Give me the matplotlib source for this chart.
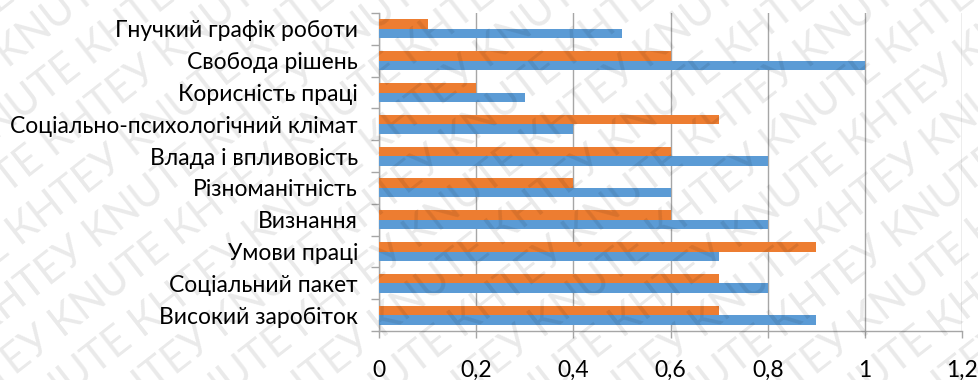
import matplotlib
matplotlib.use("Agg")
import matplotlib.pyplot as plt
from matplotlib.transforms import IdentityTransform
from matplotlib.ticker import FixedLocator, FuncFormatter
import numpy as np

plt.rcParams['font.family'] = ['Lato', 'Noto Sans', 'DejaVu Sans']

categories = [
    "Високий заробіток",
    "Соціальний пакет",
    "Умови праці",
    "Визнання",
    "Різноманітність",
    "Влада і впливовість",
    "Соціально-психологічний клімат",
    "Корисність праці",
    "Свобода рішень",
    "Гнучкий графік роботи",
]
series_blue = [0.9, 0.8, 0.7, 0.8, 0.6, 0.8, 0.4, 0.3, 1.0, 0.5]
series_orange = [0.7, 0.7, 0.9, 0.6, 0.4, 0.6, 0.7, 0.2, 0.6, 0.1]
x_ticks = [0, 0.2, 0.4, 0.6, 0.8, 1.0, 1.2]

BLUE = "#5B9BD5"
ORANGE = "#ED7D31"
GRID = "#A6A6A6"

W, H, DPI = 979, 380, 100
fig = plt.figure(figsize=(W / DPI, H / DPI), dpi=DPI)
ax = fig.add_axes([379 / W, (H - 331) / H, (962.3 - 379) / W, (331 - 13) / H])

y = np.arange(len(categories))
bh = 0.3
ax.barh(y - bh / 2, series_blue, height=bh, color=BLUE, zorder=3)
ax.barh(y + bh / 2, series_orange, height=bh, color=ORANGE, zorder=3)

ax.set_xlim(0, 1.2)
ax.set_ylim(-0.5, len(categories) - 0.5)
ax.set_xticks(x_ticks)
ax.xaxis.set_major_formatter(FuncFormatter(
    lambda v, p: ("%g" % round(v, 2)).replace(".", ",")))
ax.set_yticks(y)
ax.set_yticklabels(categories)
ax.yaxis.set_minor_locator(FixedLocator(np.arange(-0.5, len(categories), 1.0)))

px = 72 / DPI
ax.tick_params(axis='y', which='major', length=0, pad=21 * px,
               labelsize=16.5, labelcolor="#000000")
ax.tick_params(axis='y', which='minor', length=8 * px, width=1,
               color=GRID, direction='out')
ax.tick_params(axis='x', which='major', length=7 * px, width=1,
               color=GRID, direction='out', pad=22 * px,
               labelsize=16.5, labelcolor="#000000")

ax.grid(axis='x', color=GRID, linewidth=1, zorder=0)
ax.set_axisbelow(True)
for side in ("top", "right"):
    ax.spines[side].set_visible(False)
for side in ("left", "bottom"):
    ax.spines[side].set_color(GRID)
    ax.spines[side].set_linewidth(1)

# diagonal watermark across the whole canvas
angle = 38
mark = ("КНТЕУ KNUTE " * 10)
dx = 80
for k in range(-14, 14):
    fig.text(k * dx, -320, mark if k % 2 == 0 else "KNUTE " + mark,
             transform=IdentityTransform(), rotation=angle,
             rotation_mode='anchor', ha='left', va='baseline',
             fontsize=30, color="#000000", alpha=0.085, zorder=10,
             family=['Lato', 'Noto Sans', 'DejaVu Sans'])

fig.savefig("out.png", dpi=DPI)
